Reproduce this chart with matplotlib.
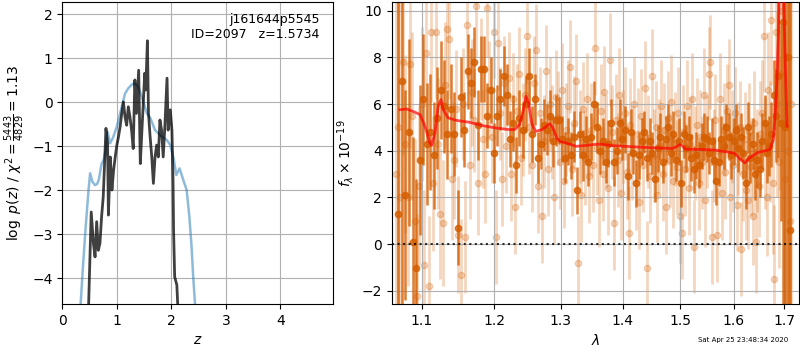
import numpy as np
import matplotlib.pyplot as plt
from matplotlib.ticker import NullLocator

# --- redshift fit: chi2-based curve (blue) and p(z) (black)
z_chi2 = [0.33, 0.38, 0.43, 0.48, 0.51, 0.55, 0.60, 0.64, 0.67, 0.72, 0.76, 0.80,
          0.83, 0.875, 0.93, 1.00, 1.09, 1.15, 1.21, 1.27, 1.32, 1.38, 1.43, 1.49,
          1.55, 1.61, 1.64, 1.70, 1.79, 1.92, 1.98, 2.04, 2.09, 2.15, 2.22, 2.28,
          2.33, 2.37, 2.40, 2.44]
logp_chi2 = [-4.7, -3.7, -2.8, -2.0, -1.61, -1.80, -1.88, -1.85, -1.75, -1.40, -1.30, -1.05,
             -0.67, -0.93, -0.80, -0.55, -0.10, 0.20, 0.32, 0.40, 0.43, 0.38, 0.22, 0.0,
             -0.25, -0.35, -0.44, -0.63, -0.74, -0.86, -0.97, -1.27, -1.65, -1.50, -1.77, -1.99,
             -2.6, -3.28, -3.96, -4.7]

z_pz = [0.48, 0.49, 0.53, 0.57, 0.60, 0.63, 0.66, 0.69, 0.72, 0.75, 0.77, 0.80,
        0.83, 0.845, 0.88, 0.91, 0.94, 0.97, 1.00, 1.03, 1.06, 1.09, 1.12, 1.15,
        1.18, 1.21, 1.24, 1.27, 1.30, 1.33, 1.36, 1.40, 1.43, 1.46, 1.49, 1.51,
        1.53, 1.56, 1.58, 1.61, 1.64, 1.67, 1.70, 1.73, 1.76, 1.79, 1.82, 1.85,
        1.88, 1.92, 1.94, 1.98, 2.01, 2.03, 2.04, 2.06, 2.10, 2.12]
logp_pz = [-4.7, -4.26, -2.49, -3.2, -3.51, -2.71, -3.36, -3.2, -2.6, -2.15, -1.54, -0.59,
           -0.93, -2.56, -1.24, -1.99, -1.54, -1.24, -0.97, -0.78, -0.55, -0.25, 0.01, -0.33,
           -0.52, -0.10, -0.33, -0.63, -1.05, 0.51, -0.25, 0.73, -1.39, -0.63, 0.13, 0.66,
           0.28, 1.40, -0.25, -0.78, -1.24, -1.84, -1.24, -0.97, -1.24, -0.40, -0.63, -1.24,
           -0.55, 0.55, -0.63, -0.17, -0.63, -1.77, -2.9, -3.96, -4.15, -4.7]

# --- G141 spectrum, binned (dark) and unbinned (light), units of 1e-19
wave0_bin, dwave_bin = 1.0695, 0.00465
flux_bin = [1.3, 7.0, 2.1, 4.8, 0.1, -1.0, 3.6, 6.2, 4.3, 4.8,
            3.8, 5.4, 6.6, 5.9, 4.7, 5.8, 4.7, 0.7, 6.3, 4.9,
            7.4, 6.9, 7.8, 5.1, 7.5, 7.5, 5.5, 6.6, 3.9, 5.5,
            6.2, 7.2, 6.4, 4.5, 5.2, 3.4, 5.4, 4.9, 6.0, 7.2,
            4.7, 6.2, 3.7, 4.3, 5.1, 4.9, 5.5, 4.4, 5.3, 5.3,
            4.5, 3.7, 4.4, 3.8, 4.6, 2.3, 4.7, 3.8, 4.5, 3.5,
            4.6, 6.0, 5.0, 4.0, 4.4, 3.5, 4.3, 5.2, 3.5, 4.0,
            5.2, 4.5, 4.9, 2.9, 4.8, 3.9, 2.6, 3.8, 4.4, 4.8,
            3.7, 4.4, 3.9, 2.8, 4.1, 4.6, 3.5, 4.5, 5.0, 3.9,
            4.7, 3.6, 4.4, 2.6, 4.7, 4.1, 4.6, 3.7, 3.2, 3.8,
            3.4, 4.2, 4.6, 4.5, 3.9, 4.4, 3.6, 2.7, 3.5, 4.5,
            4.2, 5.0, 4.6, 3.8, 4.4, 4.9, 4.1, 4.6, 3.9, 2.6,
            5.0, 3.7, 4.3, 3.0, 3.6, 3.2, 4.4, 5.2, 3.9, 4.2,
            4.7, 6.4, 5.5, 7.2, 5.2, 9.5, 5.0, 8.0, 0.6]
err_bin = [15, 15, 4.5, 4.0, 4.5, 3.8, 3.2, 2.8, 2.6, 2.5,
           2.3, 2.2, 2.1, 2.0, 1.9, 1.9, 1.8, 1.6, 1.7, 1.6,
           1.6, 1.5, 1.5, 1.5, 1.4, 1.4, 1.4, 1.4, 1.3, 1.3,
           1.3, 1.3, 1.3, 1.2, 1.2, 1.2, 1.2, 1.2, 1.2, 1.2,
           1.2, 1.1, 1.1, 1.1, 1.1, 1.1, 1.1, 1.1, 1.1, 1.0,
           1.0, 1.1, 1.0, 1.0, 1.1, 1.0, 1.0, 1.1, 1.0, 1.0,
           1.0, 1.0, 1.1, 1.0, 1.0, 0.9, 1.0, 1.0, 1.0, 1.0,
           1.0, 0.9, 1.0, 1.0, 1.0, 0.9, 1.0, 1.0, 1.0, 0.9,
           1.0, 1.0, 0.9, 1.0, 1.0, 1.0, 0.9, 1.0, 1.0, 1.0,
           1.0, 0.9, 1.0, 1.0, 1.0, 1.0, 0.9, 1.0, 1.0, 1.0,
           1.0, 1.0, 1.0, 1.0, 0.9, 1.0, 1.0, 1.0, 1.0, 1.0,
           1.0, 1.0, 1.0, 1.0, 1.0, 1.1, 1.0, 1.0, 1.1, 1.1,
           1.1, 1.1, 1.1, 1.1, 1.2, 1.2, 1.2, 1.2, 1.3, 1.3,
           1.4, 1.5, 2.0, 3.5, 4.2, 15, 15, 15, 15]

wave0_raw, dwave_raw = 1.0660, 0.0031
flux_raw = [3.0, 5.0, 2.0, 7.8, 4.3, 2.0, 7.7, 5.5, 1.0, -2.2,
            2.5, 6.0, -0.9, 8.2, -1.8, 9.1, 2.6, 9.1, 4.3, 1.3,
            0.9, 6.8, 9.2, 8.8, 2.8, 3.6, 5.8, 0.4, -1.3, 6.0,
            0.3, 9.4, 3.4, 6.5, 5.3, 10.2, 2.6, 7.5, 4.5, 3.0,
            10.1, 6.6, 4.6, 9.1, 0.3, 8.6, 5.6, 2.8, 6.9, 4.2,
            7.1, 3.0, 6.2, 1.6, 5.7, 7.3, 3.7, 4.9, 6.4, 8.9,
            5.0, 3.4, 6.9, 8.3, 2.5, 5.6, 1.2, 4.4, 7.4, 3.2,
            6.0, 4.8, 2.0, 6.3, 5.4, 3.5, 6.6, 2.7, 4.9, 5.9,
            7.6, 3.2, 5.2, 7.0, -0.8, 4.6, 2.1, 5.8, 3.7, 6.2,
            2.9, 4.9, 3.4, 8.4, 4.1, 1.9, 5.7, 3.0, 6.5, 4.4,
            2.4, 7.9, 4.8, 0.9, 5.3, 3.6, 6.4, 2.2, 4.6, 5.6,
            3.1, 0.5, 5.1, 3.9, 6.0, 2.6, 4.7, 1.8, 5.5, 3.4,
            6.7, -1.0, 4.4, 2.9, 7.2, 3.8, 5.0, 2.1, 4.2, 5.9,
            3.0, 4.9, 1.6, 5.4, 3.6, 6.1, 2.7, 4.5, 3.3, 5.6,
            1.2, 0.5, 4.8, 3.2, 5.9, 2.4, 4.3, 6.2, -0.1, 3.9,
            5.1, 2.6, 4.6, 3.5, 6.4, 1.9, 4.4, 7.3, 7.8, 0.3,
            3.8, 5.3, 0.4, 4.0, 6.2, 2.2, 4.9, 3.1, 5.7, 6.8,
            2.0, 4.6, 3.4, 5.6, 1.7, 4.1, 5.0, -0.2, 3.0, 4.5,
            2.3, 1.9, 4.8, 3.3, 1.2, 5.2, 0.1, 3.6, 2.5, 4.7,
            5.6, 8.9, 3.9, 2.0, 6.6, 4.4, 9.6, 2.6, -1.5, 9.1,
            6.0, 3.5, 7.3, 10.0, 5.2, 2.8, 8.0, 4.0, 1.0, 6.0]
err_raw = [12, 12, 12, 4.0, 3.8, 3.8, 3.6, 3.6, 3.5, 3.5,
           3.4, 3.3, 3.2, 3.1, 3.0, 3.0, 2.9, 2.9, 2.8, 2.8,
           2.7, 2.7, 2.6, 2.6, 2.6, 2.5, 2.5, 2.5, 2.4, 2.4,
           2.4, 2.3, 2.3, 2.3, 2.2, 2.2, 2.2, 2.2, 2.1, 2.1,
           2.1, 2.1, 2.0, 2.0, 2.0, 2.0, 2.0, 2.0, 2.0, 2.0,
           2.0, 2.0, 2.0, 2.0, 2.0, 2.0, 2.0, 2.0, 2.0, 2.0,
           2.0, 2.0, 2.0, 2.0, 2.0, 2.0, 2.0, 2.0, 2.0, 2.0,
           2.0, 2.0, 2.0, 2.0, 2.0, 2.0, 2.0, 2.0, 2.0, 2.0,
           2.0, 2.0, 2.0, 2.0, 2.0, 2.0, 2.0, 2.0, 2.0, 2.0,
           2.0, 2.0, 2.0, 2.0, 2.0, 2.0, 2.0, 2.0, 2.0, 2.0,
           2.0, 2.0, 2.0, 2.0, 2.0, 2.0, 2.0, 2.0, 2.0, 2.0,
           2.0, 2.0, 2.0, 2.0, 2.0, 2.0, 2.0, 2.0, 2.0, 2.0,
           2.0, 2.0, 2.0, 2.0, 2.0, 2.0, 2.0, 2.0, 2.0, 2.0,
           2.0, 2.0, 2.0, 2.0, 2.0, 2.0, 2.0, 2.0, 2.0, 2.0,
           2.0, 2.0, 2.0, 2.0, 2.0, 2.0, 2.0, 2.0, 2.0, 2.0,
           2.0, 2.0, 2.0, 2.0, 2.0, 2.0, 2.0, 2.0, 2.0, 2.0,
           2.0, 2.0, 2.0, 2.0, 2.0, 2.0, 2.0, 2.0, 2.0, 2.0,
           2.0, 2.0, 2.0, 2.0, 2.0, 2.0, 2.0, 2.0, 2.0, 2.0,
           2.1, 2.1, 2.1, 2.1, 2.1, 2.2, 2.2, 2.2, 2.2, 2.3,
           2.3, 2.4, 2.4, 2.5, 2.5, 2.6, 2.8, 3.0, 3.2, 3.5,
           4.0, 4.5, 5.0, 6.0, 12, 12, 12, 12, 12, 12]

model_wave = [1.0717, 1.0804, 1.0912, 1.0978, 1.1044, 1.1110, 1.1132, 1.1177, 1.1220, 1.1257,
              1.1288, 1.1355, 1.1469, 1.1649, 1.1831, 1.2017, 1.2205, 1.2299, 1.2371, 1.2419,
              1.2467, 1.2506, 1.2551, 1.2613, 1.2713, 1.2827, 1.2876, 1.2936, 1.2986, 1.3088,
              1.3243, 1.3400, 1.3612, 1.3829, 1.4050, 1.4333, 1.4622, 1.4859, 1.4940, 1.4990,
              1.5040, 1.5100, 1.5300, 1.5600, 1.5812, 1.6006, 1.6136, 1.6215, 1.6302, 1.6470,
              1.6708, 1.6777, 1.6812, 1.6847, 1.6881, 1.6925, 1.6960, 1.6987, 1.7021, 1.7055]
model_flux = [5.76, 5.79, 5.65, 5.55, 5.05, 4.33, 4.23, 4.76, 5.90, 6.19,
              5.76, 5.41, 5.30, 5.22, 5.08, 4.98, 4.91, 4.91, 5.12, 5.62,
              6.33, 6.05, 5.19, 4.83, 4.91, 5.16, 4.98, 4.55, 4.40, 4.33,
              4.19, 4.23, 4.29, 4.22, 4.19, 4.15, 4.12, 4.10, 4.18, 4.26,
              4.22, 4.07, 4.06, 4.04, 3.97, 3.90, 3.62, 3.48, 3.69, 3.93,
              4.05, 4.48, 5.48, 6.91, 9.06, 14.0, 12.0, 10.5, 7.62, 5.05]

wave_bin = wave0_bin + dwave_bin * np.arange(len(flux_bin))
wave_raw = wave0_raw + dwave_raw * np.arange(len(flux_raw))

g141 = (0.8353, 0.3686, 0.0)

fig = plt.figure(figsize=(8, 3.5), dpi=100)

# left panel
ax = fig.add_axes([0.0779, 0.1314, 0.3388, 0.8629])
ax.plot(z_chi2, logp_chi2, color='#1f77b4', alpha=0.5, lw=1.8)
ax.plot(z_pz, logp_pz, color='k', alpha=0.75, lw=2)
ax.set_xlim(0, 4.97)
ax.set_ylim(-4.58, 2.28)
ax.set_xticks([0, 1, 2, 3, 4])
ax.set_xlabel('$z$')
ax.set_ylabel(r'$\log\ p(z)$ / $\chi^2=\frac{5443}{4829}=1.13$')
ax.grid()
ax.text(0.95, 0.965, 'j161644p5545\nID=2097   z=1.5734', ha='right', va='top',
        transform=ax.transAxes, fontsize=9)

# right panel
ax = fig.add_axes([0.4896, 0.1314, 0.5095, 0.8629])
ax.errorbar(wave_raw, flux_raw, err_raw, color=g141, alpha=0.25, marker='o', ms=4.5,
            linestyle='None', elinewidth=2, zorder=1)
ax.errorbar(wave_bin, flux_bin, err_bin, color=g141, alpha=0.8, marker='o', ms=4.5,
            linestyle='None', elinewidth=1.8, zorder=2)
ax.plot(model_wave, model_flux, color='r', alpha=0.7, lw=2, zorder=10)
ax.axhline(0, color='k', linestyle=':', lw=1.5, alpha=0.8, zorder=11)
ax.set_xscale('log')
ax.set_xlim(1.0611, 1.7308)
ax.set_ylim(-2.56, 10.37)
ax.set_xticks([1.1, 1.2, 1.3, 1.4, 1.5, 1.6, 1.7])
ax.set_xticklabels(['1.1', '1.2', '1.3', '1.4', '1.5', '1.6', '1.7'])
ax.xaxis.set_minor_locator(NullLocator())
ax.set_xlabel(r'$\lambda$')
ax.set_ylabel(r'$f_\lambda\times10^{-19}$')
ax.grid()

fig.text(1 - 0.015, 0.02, 'Sat Apr 25 23:48:34 2020', ha='right', va='bottom', fontsize=5)

fig.savefig('out.png', dpi=100)
